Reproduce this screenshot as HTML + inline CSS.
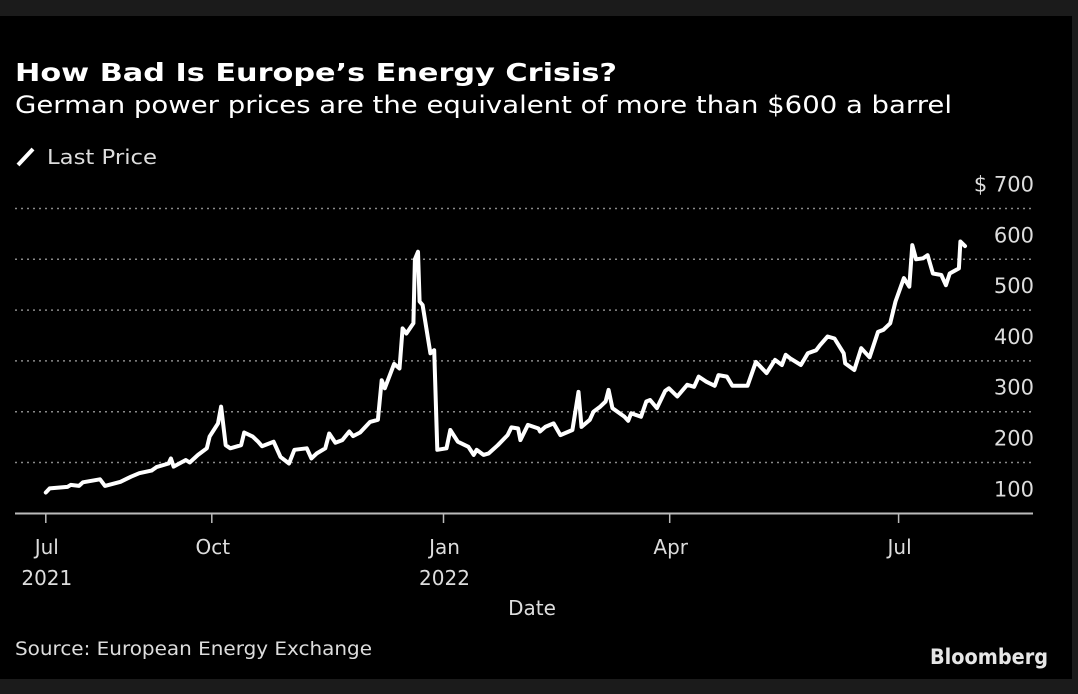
<!DOCTYPE html>
<html><head><meta charset="utf-8"><style>
html,body{margin:0;padding:0;background:#1b1b1b;}
svg{display:block;}
text{font-family:"DejaVu Sans","Liberation Sans",sans-serif;}
</style></head><body>
<svg id="chart" width="1078" height="694" viewBox="0 0 1078 694">
<rect x="0" y="0" width="1078" height="694" fill="#1b1b1b"/>
<rect x="0" y="16" width="1072" height="663" fill="#000"/>
<text x="15" y="81" fill="#fff" font-size="25" font-weight="bold" textLength="602" lengthAdjust="spacingAndGlyphs">How Bad Is Europe’s Energy Crisis?</text>
<text x="15" y="113" fill="#fff" font-size="24" textLength="937" lengthAdjust="spacingAndGlyphs">German power prices are the equivalent of more than $600 a barrel</text>
<g>
<line x1="18" y1="165" x2="33" y2="149" stroke="#fff" stroke-width="4"/>
<text x="47" y="164" fill="#ddd" font-size="20" textLength="110" lengthAdjust="spacingAndGlyphs">Last Price</text>
</g>
<g id="grid"></g>
<g id="yticks"></g>
<g id="xaxis"></g>
<g id="series"></g>
<text x="532" y="615" fill="#ddd" font-size="20" text-anchor="middle">Date</text>
<text x="15" y="655" fill="#ddd" font-size="19" textLength="357" lengthAdjust="spacingAndGlyphs">Source: European Energy Exchange</text>
<text x="1048" y="664" fill="#e6e6e6" font-size="21" font-weight="bold" text-anchor="end" font-family="Liberation Sans" textLength="118" lengthAdjust="spacingAndGlyphs">Bloomberg</text>
</svg>
<script>
// months since Jul 2021
const monthOffsets = [0,0.07,0.39,0.45,0.6,0.67,0.98,1.07,1.35,1.54,1.69,1.91,2.0,2.22,2.26,2.31,2.53,2.6,2.75,2.91,2.96,3.08,3.12,3.18,3.24,3.38,3.42,3.53,3.6,3.65,3.8,3.89,4.0,4.07,4.23,4.29,4.36,4.47,4.52,4.6,4.69,4.78,4.83,4.92,5.05,5.15,5.2,5.24,5.36,5.43,5.47,5.52,5.61,5.63,5.67,5.69,5.73,5.83,5.88,5.92,6.04,6.09,6.19,6.33,6.4,6.44,6.53,6.6,6.72,6.85,6.9,6.99,7.02,7.12,7.26,7.28,7.35,7.46,7.55,7.71,7.79,7.83,7.94,7.99,8.08,8.15,8.19,8.24,8.4,8.45,8.49,8.62,8.69,8.74,8.83,8.94,8.99,9.1,9.23,9.32,9.38,9.48,9.59,9.64,9.75,9.82,10.02,10.13,10.27,10.38,10.47,10.52,10.58,10.72,10.81,10.92,10.97,11.07,11.16,11.28,11.3,11.42,11.51,11.62,11.73,11.8,11.89,11.96,12.07,12.14,12.18,12.23,12.32,12.38,12.45,12.56,12.62,12.67,12.79,12.81,12.87];
const lastPrice = [141,149,152,156,154,161,167,154,162,172,179,184,191,198,208,192,205,200,215,228,251,277,310,234,228,234,259,251,241,232,241,211,198,225,228,208,218,228,257,239,244,261,252,259,280,284,362,346,394,385,464,454,474,600,615,517,510,415,421,225,228,264,241,231,215,225,215,218,234,254,269,267,244,274,267,261,270,277,254,264,339,270,284,300,310,320,343,307,290,282,297,290,320,323,307,341,346,330,353,349,369,359,351,372,369,351,351,398,376,402,392,412,405,392,415,421,431,448,444,415,395,382,425,407,457,461,474,517,563,546,628,600,602,608,572,569,549,572,582,635,626];
const yTickValues = [100,200,300,400,500,600,700];
const yTickLabels = ["100","200","300","400","500","600","$ 700"];
const xTickMonths = [0,3,6,9,12];
const xTickLabels = [["Jul","2021"],["Oct",""],["Jan","2022"],["Apr",""],["Jul",""]];

const NS="http://www.w3.org/2000/svg";
const tickPx=[45.8,211.8,443.5,669.7,898.6];
function xScale(t){
  let i=Math.min(Math.max(Math.floor(t/3),0),3);
  return tickPx[i]+(t-i*3)/3*(tickPx[i+1]-tickPx[i]);
}
function yScale(v){return 513.3-(v-100)*0.508;}
function mk(tag,attrs,parent){const e=document.createElementNS(NS,tag);for(const k in attrs)e.setAttribute(k,attrs[k]);parent.appendChild(e);return e;}

const grid=document.getElementById('grid'), yt=document.getElementById('yticks'), xa=document.getElementById('xaxis'), se=document.getElementById('series');
yTickValues.forEach((v,i)=>{
  const y=yScale(v);
  if(v>100){
    const l=mk('line',{x1:15,x2:1033,y1:y,y2:y,stroke:'#8a8a8a','stroke-width':1.5,'stroke-dasharray':'2 4'},grid);
    
    
  }
  const t=mk('text',{x:1034,y:y-17,fill:'#ddd','font-size':21,'text-anchor':'end'},yt);
  t.textContent=yTickLabels[i];
  
  
});
const ax=mk('line',{x1:15,x2:1033,y1:513.5,y2:513.5,stroke:'#bbb','stroke-width':2},xa);


xTickMonths.forEach((m,i)=>{
  const x=xScale(m);
  const tk=mk('line',{x1:x,x2:x,y1:513,y2:523,stroke:'#bbb','stroke-width':1.5},xa);
  
  
  const t1=mk('text',{x:x+1,y:554,fill:'#ddd','font-size':20,'text-anchor':'middle'},xa);
  t1.textContent=xTickLabels[i][0];
  
  
  if(xTickLabels[i][1]){
    const t2=mk('text',{x:x+1,y:585,fill:'#ddd','font-size':20,'text-anchor':'middle'},xa);
    t2.textContent=xTickLabels[i][1];
    
    
  }
});
const pts=monthOffsets.map((t,i)=>xScale(t).toFixed(1)+','+yScale(lastPrice[i]).toFixed(1)).join(' ');
const pl=mk('polyline',{points:pts,fill:'none',stroke:'#fff','stroke-width':4,'stroke-linejoin':'round','stroke-linecap':'round'},se);


</script>
</body></html>
